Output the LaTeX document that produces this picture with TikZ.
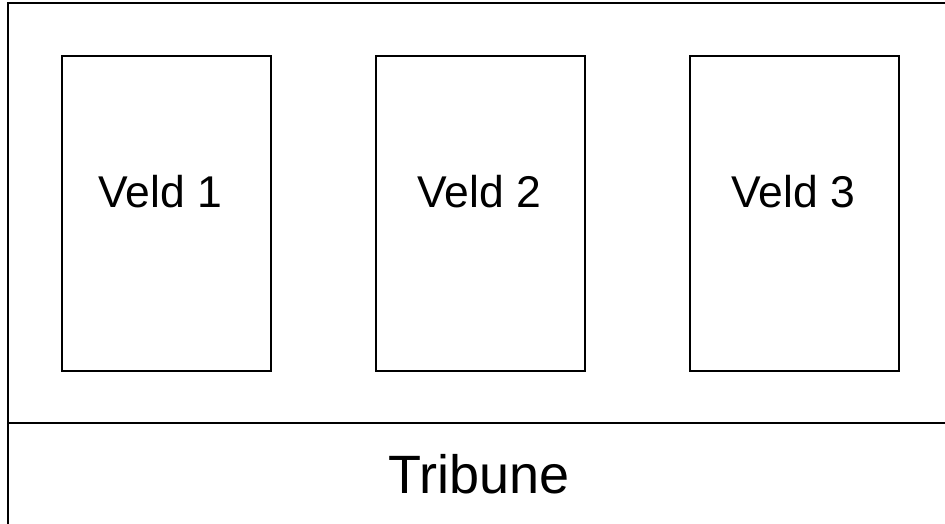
\documentclass[tikz,border=0pt]{standalone}
\usepackage{fontspec}
\setmainfont{Liberation Sans}
\begin{document}
\begin{tikzpicture}[x=1pt,y=-1pt,
  fieldbox/.style={draw=black,line width=2pt,minimum width=209pt,minimum height=315pt,inner sep=0pt,rectangle},
  fieldlabel/.style={anchor=base,inner sep=0pt,font=\fontsize{44.5}{46}\selectfont},
  tribunelabel/.style={anchor=base,inner sep=0pt,font=\fontsize{54}{56}\selectfont},
  frame/.style={draw=black,line width=2pt}]
\useasboundingbox (0,0) rectangle (945,524);
% outer frame (left and top) and tribune separator
\coordinate (tl) at (8,3.5);
\coordinate (bl) at (8,530);
\coordinate (tr) at (950,3.5);
\coordinate (sl) at (8,423);
\coordinate (sr) at (950,423);
\draw[frame] (bl) -- (tl) -- (tr);
\draw[frame] (sl) -- (sr);
% fields
\node[fieldbox] (v1) at (166.5,213.5) {};
\node[fieldbox] (v2) at (480.5,213.5) {};
\node[fieldbox] (v3) at (794.5,213.5) {};
\node[fieldlabel] (l1) at (160.5,207) {Veld 1};
\node[fieldlabel] (l2) at (479.5,207) {Veld 2};
\node[fieldlabel] (l3) at (793.5,207) {Veld 3};
\node[tribunelabel] (tribune) at (479,493) {Tribune};
\end{tikzpicture}
\end{document}
